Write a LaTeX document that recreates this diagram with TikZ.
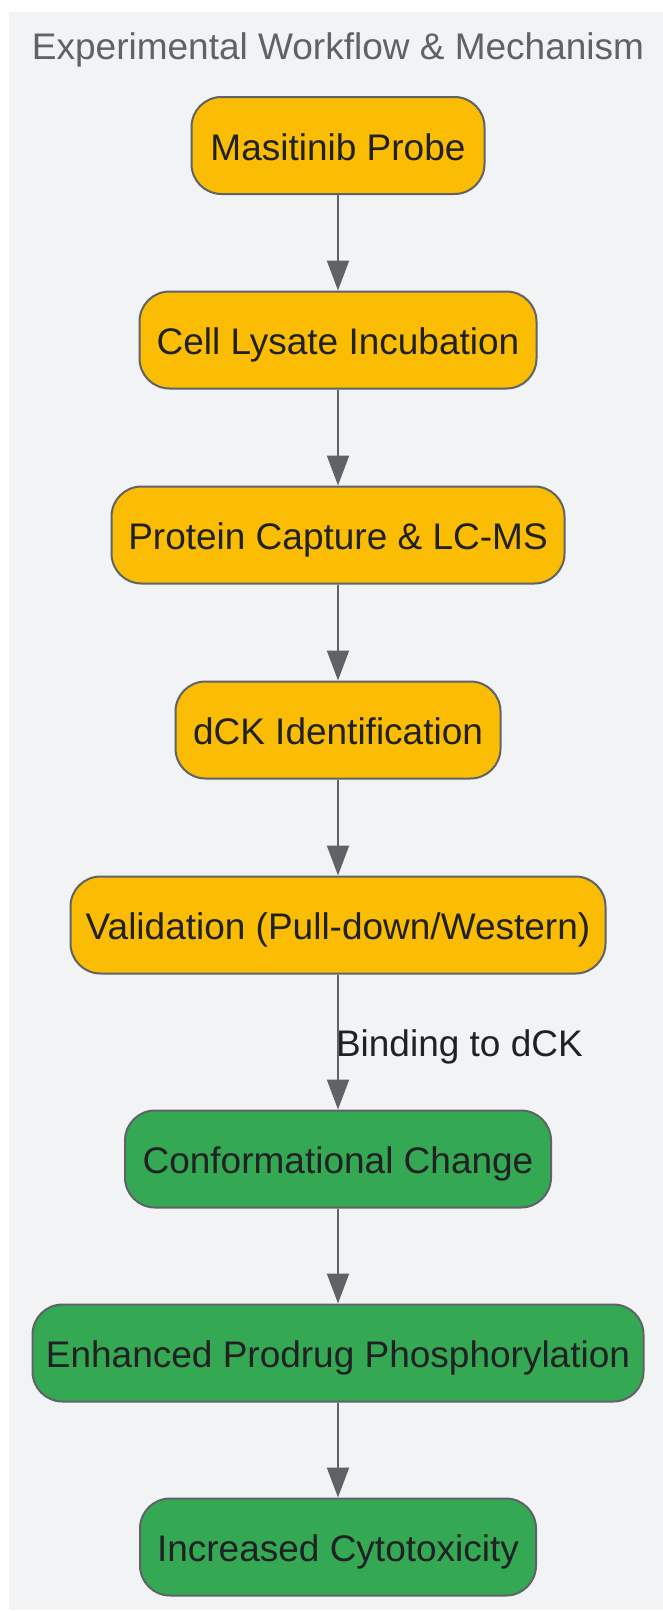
\documentclass[tikz,border=0pt]{standalone}
\usepackage{fontspec}
\setmainfont{Liberation Sans}
\usetikzlibrary{arrows.meta}
\definecolor{panelgray}{HTML}{F1F3F4}
\definecolor{titlegray}{HTML}{5F6368}
\definecolor{bordergray}{HTML}{5F6368}
\definecolor{linegray}{HTML}{5F6368}
\definecolor{textdark}{HTML}{202124}
\definecolor{probeorange}{HTML}{FBBC04}
\definecolor{mechgreen}{HTML}{34A853}
\newcommand\boxfont{\fontsize{37}{44}\selectfont}
\tikzset{
    stage/.style={rectangle,rounded corners=30pt,draw=bordergray,line width=2pt,fill=probeorange,minimum height=97pt,inner sep=0pt,font=\boxfont,text=textdark,text height=33pt,text depth=4pt},
    mech/.style={stage,fill=mechgreen},
    heading/.style={font=\boxfont,text=titlegray,inner sep=0pt,text height=33pt,text depth=4pt},
    edgelabel/.style={font=\boxfont,text=textdark,inner sep=0pt,text height=33pt,text depth=4pt},
    directed/.style={draw=linegray,line width=2pt,arrows={-{Triangle[width=22pt,length=30pt]}}},
    }
\begin{document}
\begin{tikzpicture}[x=1pt,y=-1pt]
    \useasboundingbox (0,0) rectangle (663,1611);
    \fill[panelgray] (8.5,12) rectangle (663,1610);
    \node[heading] (t) at (338,45) {Experimental Workflow \& Mechanism};

		\node[stage,minimum width=293pt] (a) at (338,145.5) {Masitinib Probe};
		\node[stage,minimum width=397pt] (b) at (338,340) {Cell Lysate Incubation};
		\node[stage,minimum width=453pt] (c) at (338,535) {Protein Capture \& LC-MS};
		\node[stage,minimum width=325pt] (d) at (338,730) {dCK Identification};
		\node[stage,minimum width=535pt] (e) at (338,925) {Validation (Pull-down/Western)};
		\node[mech,minimum width=426pt] (f) at (338,1159) {Conformational Change};
		\node[mech,minimum width=611pt] (g) at (338,1353) {Enhanced Prodrug Phosphorylation};
		\node[mech,minimum width=396pt] (h) at (338,1547) {Increased Cytotoxicity};

		\draw[directed] (a) to (b);
        \draw[directed] (b) to (c);
        \draw[directed] (c) to (d);
        \draw[directed] (d) to (e);
        \draw[directed] (e) to node[edgelabel,anchor=west,xshift=-3pt] {Binding to dCK} (f);
        \draw[directed] (f) to (g);
        \draw[directed] (g) to (h);
    \end{tikzpicture}
\end{document}
